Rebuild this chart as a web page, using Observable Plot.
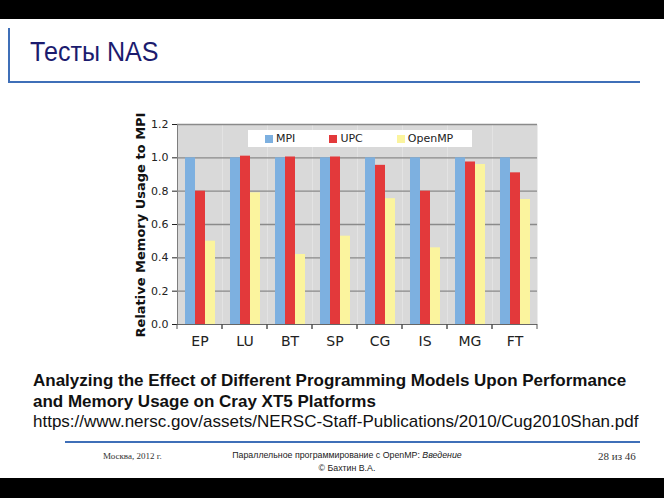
<!DOCTYPE html>
<html><head><meta charset="utf-8">
<script src="https://cdn.jsdelivr.net/npm/d3@7"></script>
<script src="https://cdn.jsdelivr.net/npm/@observablehq/plot@0.6"></script>
<style>
html,body{margin:0;padding:0}
body{width:664px;height:498px;position:relative;overflow:hidden;background:#fff;font-family:"Liberation Sans",Arial,sans-serif}
.abs{position:absolute;white-space:nowrap}
#topband{left:0;top:0;width:664px;height:19px;background:#000}
#botband{left:0;top:478px;width:664px;height:20px;background:#000}
#vline{left:8px;top:28px;width:2px;height:55px;background:#3f6fb8}
#hline{left:8px;top:81px;width:632px;height:2px;background:#3f6fb8}
#title{left:30px;top:37px;font-size:27px;line-height:30px;color:#1b1b6e;transform:scaleX(0.93);transform-origin:0 0}
#chart{left:120px;top:112px}
#ylabel{left:140px;top:225px;font-family:"DejaVu Sans";font-weight:bold;font-size:13px;color:#111;transform:translate(-50%,-50%) rotate(-90deg)}
#legendbox{left:248px;top:130px;width:207px;height:17px;background:#fff;padding-left:17px;display:flex;align-items:center;overflow:visible}
#legendbox .lg-swatches{font-family:"DejaVu Sans";font-size:11px;color:#222;margin:0 !important;min-height:0 !important;flex-wrap:nowrap !important;display:flex;align-items:center;white-space:nowrap}
#legendbox .lg-swatch{margin-right:34px !important;display:inline-flex;align-items:center}
#legendbox .lg-swatch > svg{margin-right:3px !important}
#cap{left:33px;top:371px;font-size:17px;line-height:20.5px;color:#111}
#cap b{font-weight:bold}
#footline{left:65px;top:441px;width:575px;height:2px;background:#3f6fb8}
#moscow{left:103px;top:451px;font-family:"Liberation Serif";font-size:9px;color:#333}
#course{left:347px;top:449px;font-size:8.8px;color:#222;transform:translateX(-50%);text-align:center;line-height:12.5px}
#page{left:598px;top:450px;font-family:"Liberation Serif";font-size:11px;color:#333}
svg [aria-label^="fx-axis"] text{font-size:14px}
svg [aria-label^="fx-axis"]{font-size:14px}
</style></head>
<body>
<div id="topband" class="abs"></div>
<div id="botband" class="abs"></div>
<div id="vline" class="abs"></div>
<div id="hline" class="abs"></div>
<div id="title" class="abs">Тесты NAS</div>
<div id="chart" class="abs"></div>
<div id="ylabel" class="abs">Relative Memory Usage to MPI</div>
<div id="legendbox" class="abs"></div>
<div id="cap" class="abs"><b>Analyzing the Effect of Different Programming Models Upon Performance<br>and Memory Usage on Cray XT5 Platforms</b><br>https://www.nersc.gov/assets/NERSC-Staff-Publications/2010/Cug2010Shan.pdf</div>
<div id="footline" class="abs"></div>
<div id="moscow" class="abs">Москва, 2012 г.</div>
<div id="course" class="abs">Параллельное программирование с OpenMP: <i>Введение</i><br>© Бахтин В.А.</div>
<div id="page" class="abs">28 из 46</div>
<script>
const benches = ["EP","LU","BT","SP","CG","IS","MG","FT"];
const series = ["MPI","UPC","OpenMP"];
const mpi    = [1.00,1.00,1.00,1.00,1.00,1.00,1.00,1.00];
const upc    = [0.80,1.01,1.005,1.005,0.955,0.80,0.975,0.91];
const openmp = [0.50,0.79,0.42,0.53,0.755,0.46,0.96,0.75];
const yTicks = [0,0.2,0.4,0.6,0.8,1.0,1.2];
const colors = ["#7db0e0","#e3393b","#fbf49e"];

const seriesValues = {MPI: mpi, UPC: upc, OpenMP: openmp};
const rows = benches.flatMap((b, i) => series.map(s => ({bench: b, series: s, value: seriesValues[s][i]})));

function boundaryTicks(index, scales, values, dims) {
  const g = d3.create("svg:g").attr("stroke", "#555").attr("stroke-width", 1);
  const y0 = scales.y(0);
  for (const x of [dims.marginLeft, dims.width - dims.marginRight]) {
    g.append("line").attr("x1", x).attr("x2", x).attr("y1", y0).attr("y2", y0 + 5);
  }
  return g.node();
}

const chart = Plot.plot({
  width: 422, height: 242,
  marginLeft: 57, marginRight: 5, marginTop: 12, marginBottom: 30,
  style: {fontFamily: "DejaVu Sans", fontSize: "11px", color: "#222", background: "transparent", overflow: "visible"},
  facet: {data: rows, x: "bench", marginBottom: 30},
  fx: {domain: benches, padding: 0, axis: "bottom", label: null, tickSize: 0, tickPadding: 12},
  x: {domain: series, paddingInner: 0, paddingOuter: 0.75, axis: null},
  y: {domain: [0, 1.2], ticks: yTicks, tickFormat: d => d.toFixed(1), label: null, tickSize: 5, tickPadding: 4, line: true},
  color: {domain: series, range: colors},
  marks: [
    Plot.frame({fill: "#d9d9d9", stroke: null}),
    Plot.ruleY(yTicks.slice(1), {stroke: "#8a8a8a", strokeWidth: 1.3}),
    Plot.barY(rows, {x: "series", y: "value", fill: "series"}),
    Plot.ruleY([0], {stroke: "#666"}),
    boundaryTicks
  ]
});
document.getElementById("chart").appendChild(chart);
const leg = chart.legend("color", {legend: "swatches", swatchSize: 8, className: "lg"});
document.getElementById("legendbox").appendChild(leg);
</script>
</body></html>
